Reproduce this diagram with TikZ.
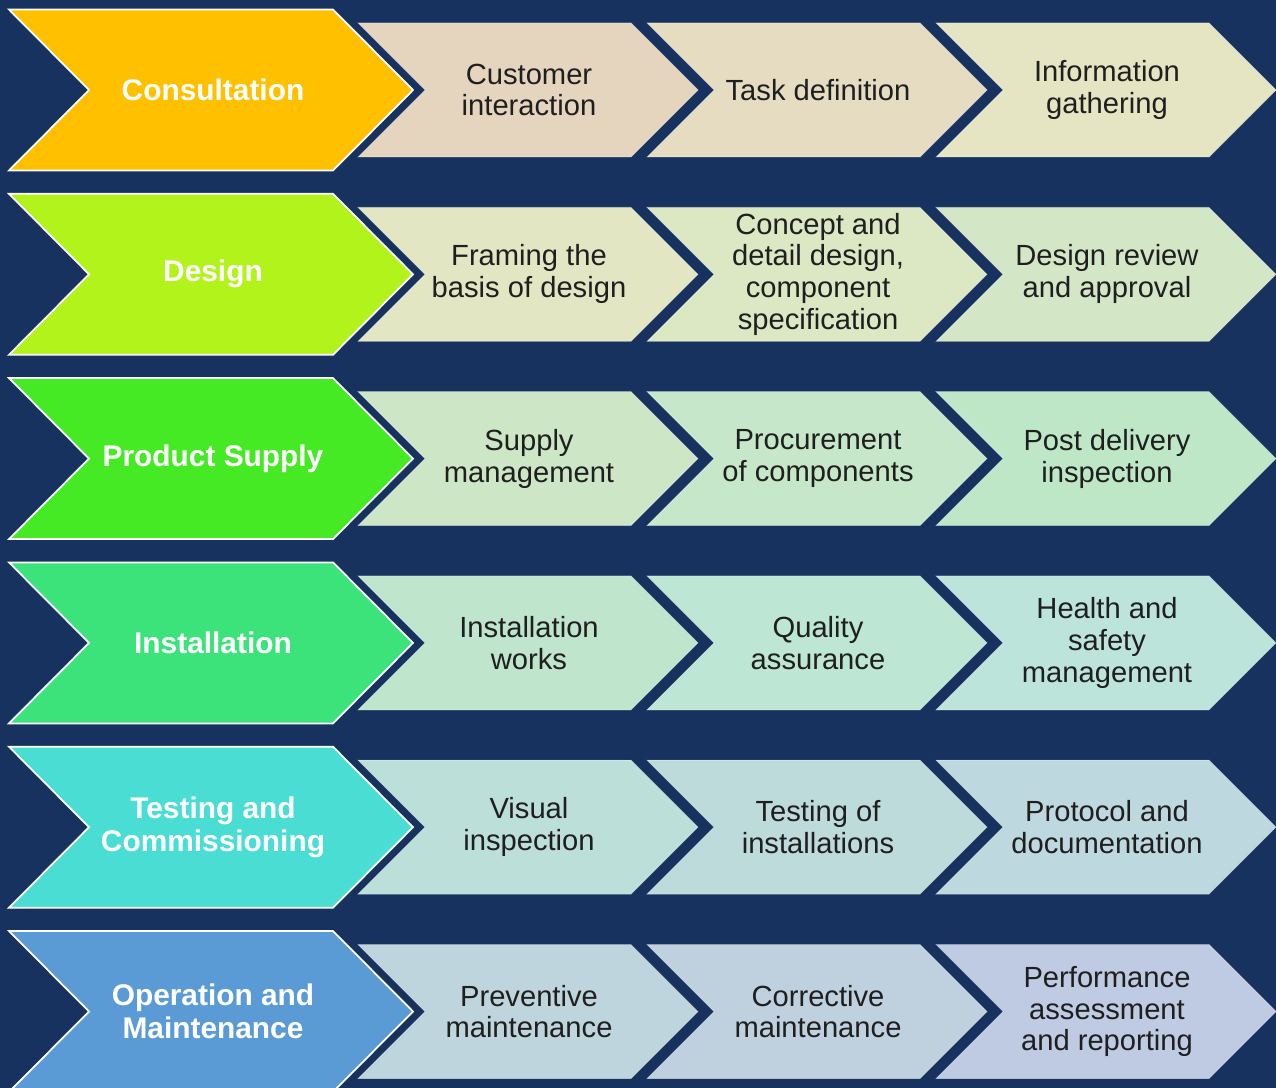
\documentclass[tikz,border=0pt]{standalone}
\usepackage{fontspec}
\setmainfont{Liberation Sans}
\definecolor{navy}{HTML}{17325E}
\definecolor{consult}{HTML}{FFC000}
\definecolor{design}{HTML}{B2F31C}
\definecolor{supply}{HTML}{45EA24}
\definecolor{install}{HTML}{3CE37A}
\definecolor{testing}{HTML}{4ADDD3}
\definecolor{operate}{HTML}{5B9BD5}
\definecolor{sa1}{HTML}{E6D5BE}\definecolor{sa2}{HTML}{E6DCC2}\definecolor{sa3}{HTML}{E5E4C3}
\definecolor{sb1}{HTML}{E3E6C3}\definecolor{sb2}{HTML}{DCE7C4}\definecolor{sb3}{HTML}{D3E6C6}
\definecolor{sc1}{HTML}{CDE7C6}\definecolor{sc2}{HTML}{C6E7C9}\definecolor{sc3}{HTML}{BEE7C7}
\definecolor{sd1}{HTML}{BFE6CD}\definecolor{sd2}{HTML}{BEE6D5}\definecolor{sd3}{HTML}{BDE4DA}
\definecolor{se1}{HTML}{BDDFDA}\definecolor{se2}{HTML}{BDDBDB}\definecolor{se3}{HTML}{BDD8DE}
\definecolor{sf1}{HTML}{BED5DE}\definecolor{sf2}{HTML}{BFD1DF}\definecolor{sf3}{HTML}{BFCAE3}
\tikzset{
  stage/.style={draw=white, line width=1pt, line join=miter},
  stagetext/.style={text=white, font=\bfseries\fontsize{17}{18.7}\selectfont, align=center},
  stepbox/.style={draw=white, draw opacity=0.35, line width=0.4pt},
  steptext/.style={text=black!88, font=\fontsize{16.6}{18.1}\selectfont, align=center},
}
\begin{document}
\begin{tikzpicture}[x=0.02cm, y=-0.02cm]
	\fill[navy] (0,0) rectangle (1276,1088);
	\useasboundingbox (0,0) rectangle (1276,1088);
	% steps of each stage
	\foreach \r/\c/\col/\txt in {
		0/0/sa1/{Customer\\interaction}, 0/1/sa2/{Task definition}, 0/2/sa3/{Information\\gathering},
		1/0/sb1/{Framing the\\basis of design}, 1/1/sb2/{Concept and\\detail design,\\component\\specification}, 1/2/sb3/{Design review\\and approval},
		2/0/sc1/{Supply\\management}, 2/1/sc2/{Procurement\\of components}, 2/2/sc3/{Post delivery\\inspection},
		3/0/sd1/{Installation\\works}, 3/1/sd2/{Quality\\assurance}, 3/2/sd3/{Health and\\safety\\management},
		4/0/se1/{Visual\\inspection}, 4/1/se2/{Testing of\\installations}, 4/2/se3/{Protocol and\\documentation},
		5/0/sf1/{Preventive\\maintenance}, 5/1/sf2/{Corrective\\maintenance}, 5/2/sf3/{Performance\\assessment\\and reporting}}{
		\pgfmathsetmacro\yc{90+\r*184.3}
		\pgfmathsetmacro\lx{358+\c*289}
		\filldraw[fill=\col, stepbox] (\lx,\yc-67) -- ++(273,0) -- ++(67,67) -- ++(-67,67) -- ++(-273,0) -- ++(67,-67) -- cycle;
		\node[steptext] (step-\r-\c) at (\lx+171,\yc) {\txt};
	}
	% stages
	\foreach \r/\col/\txt in {0/consult/{Consultation}, 1/design/{Design}, 2/supply/{Product Supply},
		3/install/{Installation}, 4/testing/{Testing and\\Commissioning}, 5/operate/{Operation and\\Maintenance}}{
		\pgfmathsetmacro\yc{90+\r*184.3}
		\filldraw[fill=\col, stage] (9,\yc-80.5) -- ++(324,0) -- ++(80,80.5) -- ++(-80,80.5) -- ++(-324,0) -- ++(80,-80.5) -- cycle;
		\node[stagetext] (stage-\r) at (213,\yc) {\txt};
	}
\end{tikzpicture}
\end{document}
